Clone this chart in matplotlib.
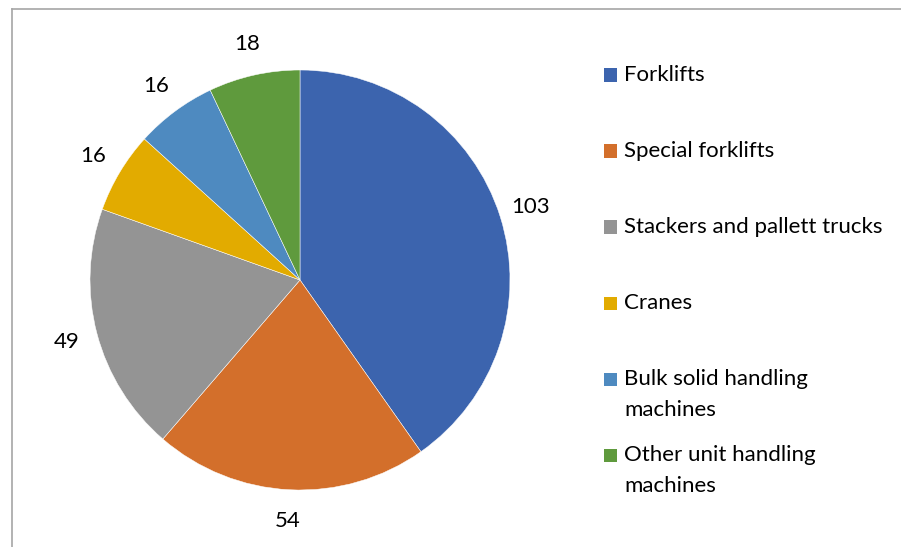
import matplotlib
matplotlib.use("Agg")
import matplotlib.pyplot as plt
from matplotlib.lines import Line2D
from matplotlib.patches import Rectangle

categories = ["Forklifts", "Special forklifts", "Stackers and pallett trucks",
              "Cranes", "Bulk solid handling\nmachines", "Other unit handling\nmachines"]
values = [103, 54, 49, 16, 16, 18]
colors = ["#3C64AE", "#D36F2B", "#949494", "#E2AB00", "#4E8AC0", "#5F9A3D"]

W, H = 901, 547
plt.rcParams["font.family"] = ["Lato", "DejaVu Sans"]
fig = plt.figure(figsize=(W / 100, H / 100), dpi=100)

def fx(px):
    return px / W

def fy(py):
    return 1 - py / H

# pie axes: center (300,280), radius 210 px
cx, cy, R = 300, 280, 210
ax = fig.add_axes([fx(cx - R), fy(cy + R), 2 * R / W, 2 * R / H])
wedges, texts = ax.pie(values, labels=[str(v) for v in values], colors=colors,
                       startangle=90, counterclock=False, radius=1,
                       labeldistance=1.15,
                       wedgeprops=dict(edgecolor="white", linewidth=0.35),
                       textprops=dict(fontsize=16, color="#000000"))
for t in texts:
    t.set_ha("center")
    t.set_va("center")
ax.set_xlim(-1, 1)
ax.set_ylim(-1, 1)
ax.set_aspect("equal")
ax.axis("off")

# frame (chart area border, partly cut off)
fig.add_artist(Line2D([fx(11.5), fx(11.5)], [fy(8.5), fy(560)], color="#A6A6A6", lw=1.2))
fig.add_artist(Line2D([fx(11.5), fx(920)], [fy(8.5), fy(8.5)], color="#A6A6A6", lw=1.2))

# legend
for i, (cat, col) in enumerate(zip(categories, colors)):
    yc = 75 + 76 * i
    fig.add_artist(Rectangle((fx(604), fy(yc + 6.5)), 13 / W, 13 / H,
                             transform=fig.transFigure, facecolor=col, edgecolor="none"))
    for j, line in enumerate(cat.split("\n")):
        fig.text(fx(624), fy(yc + 31 * j), line, ha="left", va="center",
                 fontsize=16, color="#000000")

fig.savefig("out.png", dpi=100, facecolor="white")
